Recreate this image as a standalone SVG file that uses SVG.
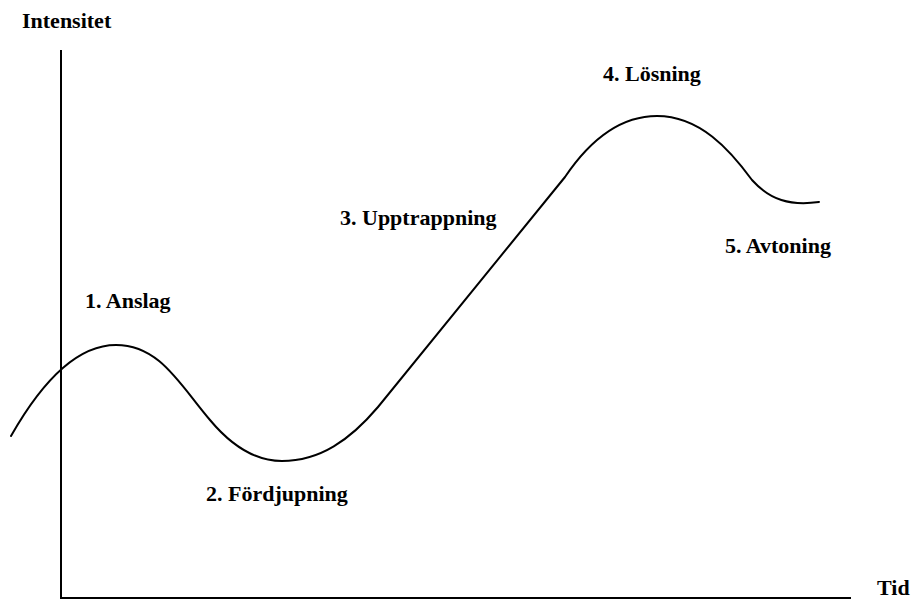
<svg xmlns="http://www.w3.org/2000/svg" width="912" height="601" viewBox="0 0 912 601">
<style>
.lbl{font-family:"Liberation Serif","Times New Roman",serif;font-weight:bold;font-size:22px;fill:#000}
.ax{stroke:#000;stroke-width:2;fill:none}
.cv{stroke:#000;stroke-width:2;fill:none;stroke-linecap:round;stroke-linejoin:round}
</style>
<rect width="912" height="601" fill="#fff"/>
<g id="axes">
<line class="ax" x1="61" y1="50" x2="61" y2="599"/>
<line class="ax" x1="60" y1="598" x2="851" y2="598"/>
</g>
<g id="connectors">
<path class="cv" d="M 11 436 C 40 385, 75 345, 116 345 C 160 345, 180 385, 210 420 C 235 450, 260 461, 282 461 C 320 461, 350 440, 378 407 L 565 177 C 590 140, 620 116, 657 116 C 700 116, 730 150, 752 180 C 770 200, 790 206, 819 202"/>
</g>
<g id="label-y"><text class="lbl" x="22" y="28">Intensitet</text></g>
<g id="label-x"><text class="lbl" x="877" y="595">Tid</text></g>
<g id="stage1"><text class="lbl" x="85" y="308">1. Anslag</text></g>
<g id="stage2"><text class="lbl" x="206" y="501">2. Fördjupning</text></g>
<g id="stage3"><text class="lbl" x="340" y="225">3. Upptrappning</text></g>
<g id="stage4"><text class="lbl" x="603" y="81">4. Lösning</text></g>
<g id="stage5"><text class="lbl" x="725" y="253">5. Avtoning</text></g>
</svg>
